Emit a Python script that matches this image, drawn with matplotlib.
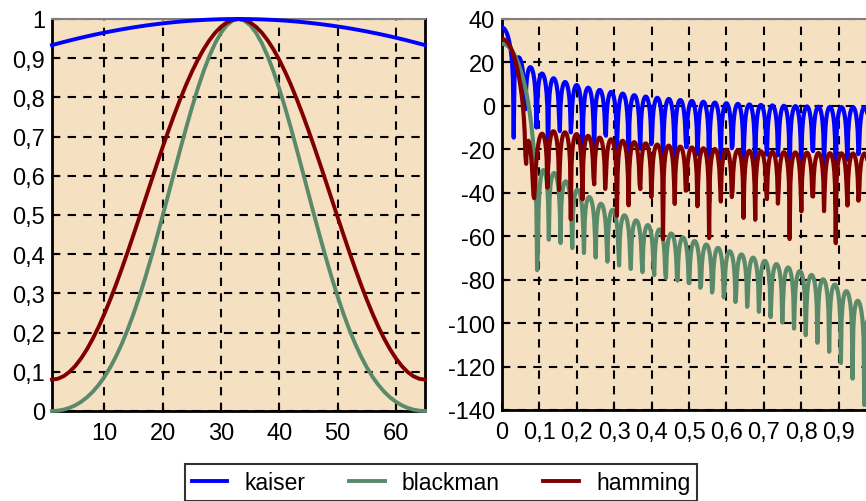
import numpy as np
import matplotlib as mpl
import matplotlib.pyplot as plt
from matplotlib.ticker import FuncFormatter
mpl.use("Agg")

plt.rcParams["font.family"] = ["Liberation Sans", "DejaVu Sans"]
plt.rcParams["axes.unicode_minus"] = False

# window parameters
N = 65
kaiser_beta = 0.53
n_freq = 512

names = ["kaiser", "blackman", "hamming"]
colors = ["#0000ff", "#5b8a6b", "#800000"]

n = np.arange(1, N + 1)
windows = [np.kaiser(N, kaiser_beta), np.blackman(N), np.hamming(N)]

# frequency response on a grid over [0, 1] (1 = Nyquist)
freq = np.linspace(0, 1, n_freq)
kernel = np.exp(-1j * np.pi * np.outer(freq, np.arange(N)))
spectra = []
for w in windows:
    H = np.abs(kernel @ w)
    spectra.append(20 * np.log10(np.maximum(H, 1e-12)))

left_xticks = [10, 20, 30, 40, 50, 60]
left_yticks = np.arange(0, 1.01, 0.1)
right_xticks = np.arange(0, 0.95, 0.1)
right_yticks = np.arange(-140, 41, 20)

bg = "#f5e0c2"
comma_fmt = FuncFormatter(lambda x, p: ("%g" % round(x, 2)).replace(".", ","))


def style_axes(ax):
    ax.set_facecolor(bg)
    ax.grid(True, color="black", linestyle=(0, (4, 3.5)), linewidth=1.5)
    ax.set_axisbelow(True)
    ax.tick_params(direction="in", labelsize=17, length=5, width=1.5, pad=5)
    ax.tick_params(axis="x", pad=8)
    for s in ["left", "bottom", "right"]:
        ax.spines[s].set_linewidth(2)
    ax.spines["top"].set_color("#7f7f7f")
    ax.spines["top"].set_linewidth(1.5)


fig = plt.figure(figsize=(8.66, 5.02), dpi=100)

ax1 = fig.add_axes([52 / 866, 90 / 502, 373 / 866, 392 / 502])
style_axes(ax1)
lines = []
for i in [1, 2, 0]:
    ax1.plot(n, windows[i], color=colors[i], linewidth=2.8, clip_on=False, zorder=3)
for i in range(3):
    lines.append(plt.Line2D([], [], color=colors[i], linewidth=2.8))
ax1.set_xlim(1, 65)
ax1.set_ylim(0, 1)
ax1.set_xticks(left_xticks)
ax1.set_yticks(left_yticks)
ax1.yaxis.set_major_formatter(comma_fmt)

ax2 = fig.add_axes([502 / 866, 91 / 502, 374 / 866, 391 / 502])
style_axes(ax2)
ax2.spines["right"].set_visible(False)
for i in range(3):
    ax2.plot(freq, spectra[i], color=colors[i], linewidth=3.0, zorder=3)
ax2.set_xlim(0, 1)
ax2.set_ylim(-140, 40)
ax2.set_xticks(right_xticks)
ax2.set_yticks(right_yticks)
ax2.xaxis.set_major_formatter(comma_fmt)

leg = fig.legend(lines, names, loc="upper center", bbox_to_anchor=(441 / 866, 1 - 465 / 502),
                 ncol=3, fontsize=16.5, frameon=True, fancybox=False, handlelength=1.55,
                 columnspacing=1.9, borderpad=0.3, handletextpad=0.75, borderaxespad=0)
leg.get_frame().set_edgecolor("black")
leg.get_frame().set_linewidth(1.5)

plt.savefig("out.png", dpi=100)
